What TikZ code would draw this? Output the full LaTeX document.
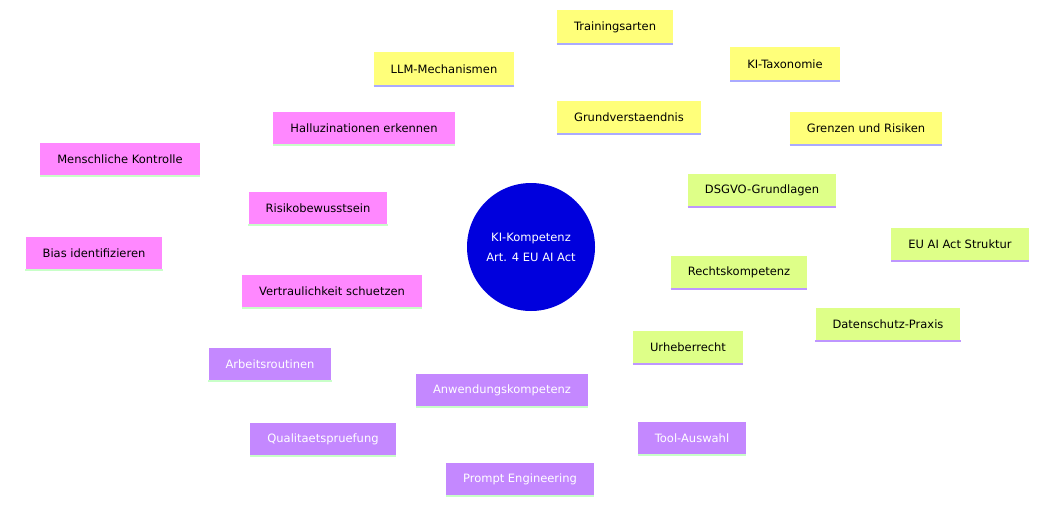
\documentclass[tikz,border=0pt]{standalone}
\usepackage{fontspec}
\setmainfont{DejaVu Sans}
\usetikzlibrary{backgrounds}
\definecolor{grund}{RGB}{255,255,122}
\definecolor{recht}{RGB}{222,255,136}
\definecolor{anw}{RGB}{196,136,255}
\definecolor{risk}{RGB}{255,136,255}
\definecolor{core}{RGB}{0,0,221}
\definecolor{lineA}{RGB}{170,170,255}
\definecolor{lineB}{RGB}{190,150,255}
\definecolor{lineC}{RGB}{200,255,200}
\tikzset{
  box/.style={rectangle,fill=#1,inner xsep=17pt,minimum height=33pt,
    font=\fontsize{11.5}{14}\selectfont},
  grundbox/.style={box=grund,append after command={(\tikzlastnode.south west) edge[draw=lineA,line width=2pt] (\tikzlastnode.south east)}},
  rechtbox/.style={box=recht,append after command={(\tikzlastnode.south west) edge[draw=lineB,line width=2pt] (\tikzlastnode.south east)}},
  anwbox/.style={box=anw,text=white,append after command={(\tikzlastnode.south west) edge[draw=lineC,line width=2pt] (\tikzlastnode.south east)}},
  riskbox/.style={box=risk,append after command={(\tikzlastnode.south west) edge[draw=lineC,line width=2pt] (\tikzlastnode.south east)}},
  trunk/.style={line width=9pt,draw=#1},
  twig/.style={line width=4pt,draw=#1}
}
\begin{document}
\begin{tikzpicture}[x=1pt,y=-1pt]
  \useasboundingbox[fill=white] (0,0) rectangle (1062,511);

  \node[circle,fill=core,text=white,minimum size=128pt,align=center,
    font=\fontsize{11.5}{20}\selectfont] (ki) at (531,247) {KI-Kompetenz\\Art. 4 EU AI Act};

  % Grundverstaendnis
  \node[grundbox] (grund) at (629,117) {Grundverstaendnis};
  \node[grundbox] (train) at (615,27) {Trainingsarten};
  \node[grundbox] (llm) at (444,69) {LLM-Mechanismen};
  \node[grundbox] (tax) at (785,64) {KI-Taxonomie};
  \node[grundbox] (grenz) at (866,128) {Grenzen und Risiken};

  % Rechtskompetenz
  \node[rechtbox] (recht) at (739,272) {Rechtskompetenz};
  \node[rechtbox] (dsgvo) at (762,190) {DSGVO-Grundlagen};
  \node[rechtbox] (euai) at (960,244) {EU AI Act Struktur};
  \node[rechtbox] (dsp) at (888,324) {Datenschutz-Praxis};
  \node[rechtbox] (urh) at (688,347) {Urheberrecht};

  % Anwendungskompetenz
  \node[anwbox] (anw) at (502,390) {Anwendungskompetenz};
  \node[anwbox] (arb) at (270,364) {Arbeitsroutinen};
  \node[anwbox] (qual) at (323,439) {Qualitaetspruefung};
  \node[anwbox] (prompt) at (520,479) {Prompt Engineering};
  \node[anwbox] (tool) at (692,438) {Tool-Auswahl};

  % Risikobewusstsein
  \node[riskbox] (risk) at (318,208) {Risikobewusstsein};
  \node[riskbox] (hall) at (364,128) {Halluzinationen erkennen};
  \node[riskbox] (mensch) at (120,159) {Menschliche Kontrolle};
  \node[riskbox] (bias) at (94,253) {Bias identifizieren};
  \node[riskbox] (vert) at (332,291) {Vertraulichkeit schuetzen};

  \begin{pgfonlayer}{background}
    \draw[trunk=grund] (ki.center) -- (grund.center);
    \draw[trunk=recht] (ki.center) -- (recht.center);
    \draw[trunk=anw] (ki.center) -- (anw.center);
    \draw[trunk=risk] (ki.center) -- (risk.center);
    \foreach \n in {train,llm,tax,grenz} \draw[twig=grund] (grund.center) -- (\n.center);
    \foreach \n in {dsgvo,euai,dsp,urh} \draw[twig=recht] (recht.center) -- (\n.center);
    \foreach \n in {arb,qual,prompt,tool} \draw[twig=anw] (anw.center) -- (\n.center);
    \foreach \n in {hall,mensch,bias,vert} \draw[twig=risk] (risk.center) -- (\n.center);
  \end{pgfonlayer}
\end{tikzpicture}
\end{document}
